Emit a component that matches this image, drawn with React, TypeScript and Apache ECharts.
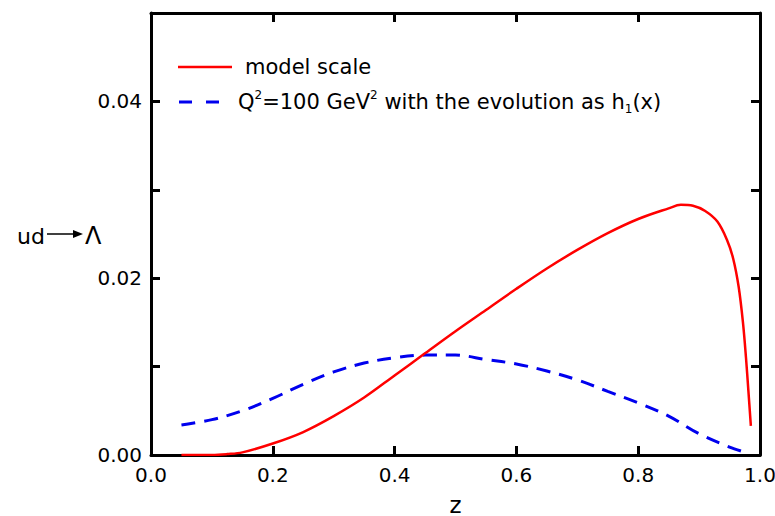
import React, { useEffect, useRef } from "react";
import * as echarts from "echarts";

const FONT = "DejaVu Sans, Liberation Sans, Arial, sans-serif";

const xTicks = [0, 0.2, 0.4, 0.6, 0.8, 1.0];
const yLabelValues = [0, 0.02, 0.04];

const modelZ = [0.05, 0.1, 0.125, 0.15, 0.2, 0.25, 0.3, 0.35, 0.4, 0.45, 0.5, 0.55, 0.6, 0.65, 0.7, 0.75, 0.8, 0.85, 0.87, 0.89, 0.91, 0.93, 0.946, 0.956, 0.965, 0.972, 0.977, 0.981, 0.985];
const modelV = [0, 0, 0.0001, 0.0003, 0.0013, 0.0026, 0.0044, 0.0065, 0.009, 0.0115, 0.014, 0.0164, 0.0188, 0.0211, 0.0232, 0.0251, 0.0267, 0.0279, 0.0283, 0.0282, 0.0276, 0.0264, 0.0243, 0.0222, 0.019, 0.015, 0.011, 0.0072, 0.0033];

const evolZ = [0.05, 0.1, 0.15, 0.2, 0.25, 0.3, 0.35, 0.4, 0.45, 0.5, 0.55, 0.6, 0.65, 0.7, 0.75, 0.8, 0.85, 0.9, 0.95, 0.98];
const evolV = [0.0034, 0.004, 0.005, 0.0064, 0.008, 0.0094, 0.0104, 0.011, 0.0113, 0.0113, 0.0108, 0.0103, 0.0095, 0.0085, 0.0072, 0.0059, 0.0044, 0.0024, 0.0009, 0.0002];

export default function App() {
  const ref = useRef<HTMLDivElement>(null);
  useEffect(() => {
    document.body.style.margin = "0";
    const chart = echarts.init(ref.current!, null, { renderer: "svg" });
    const axisLine = { show: true, onZero: false, lineStyle: { color: "#000", width: 3 } };
    const axisTick = { show: true, inside: true, length: 9, lineStyle: { color: "#000", width: 3 } };
    chart.setOption({
      animation: false,
      backgroundColor: "#fff",
      grid: { left: 151, right: 15, top: 13, bottom: 61, containLabel: false, outerBoundsMode: "none" },
      xAxis: [
        {
          type: "value",
          min: 0,
          max: 1,
          interval: 0.2,
          position: "bottom",
          axisLine,
          axisTick,
          splitLine: { show: false },
          axisLabel: {
            color: "#000",
            fontSize: 20,
            fontFamily: FONT,
            margin: 10,
            formatter: (v: number) => (xTicks.some((t) => Math.abs(t - v) < 1e-9) ? v.toFixed(1) : ""),
          },
          name: "z",
          nameLocation: "middle",
          nameGap: 40,
          nameTextStyle: { color: "#000", fontSize: 23, fontFamily: FONT, lineHeight: 19 },
        },
        {
          type: "value",
          min: 0,
          max: 1,
          interval: 0.2,
          position: "top",
          axisLine,
          axisTick,
          splitLine: { show: false },
          axisLabel: { show: false },
        },
      ],
      yAxis: [
        {
          type: "value",
          min: 0,
          max: 0.05,
          interval: 0.01,
          position: "left",
          axisLine,
          axisTick,
          splitLine: { show: false },
          axisLabel: {
            color: "#000",
            fontSize: 20,
            fontFamily: FONT,
            margin: 9,
            formatter: (v: number) => (yLabelValues.some((t) => Math.abs(t - v) < 1e-9) ? v.toFixed(2) : ""),
          },
        },
        {
          type: "value",
          min: 0,
          max: 0.05,
          interval: 0.01,
          position: "right",
          axisLine,
          axisTick,
          splitLine: { show: false },
          axisLabel: { show: false },
        },
      ],
      series: [
        {
          name: "model scale",
          type: "line",
          data: modelZ.map((z, i) => [z, modelV[i]]),
          smooth: 0.35,
          showSymbol: false,
          lineStyle: { color: "#ff0000", width: 2.5 },
          z: 3,
        },
        {
          name: "evolution",
          type: "line",
          data: evolZ.map((z, i) => [z, evolV[i]]),
          smooth: 0.35,
          showSymbol: false,
          lineStyle: { color: "#0000ee", width: 3, type: [14, 9] },
          z: 2,
        },
      ],
      graphic: [
        { type: "line", shape: { x1: 178, y1: 67, x2: 232, y2: 67 }, style: { stroke: "#ff0000", lineWidth: 2.5 } },
        {
          type: "text",
          x: 245,
          y: 67,
          style: { text: "model scale", fontSize: 21, fontFamily: FONT, fill: "#000", verticalAlign: "middle" },
        },
        { type: "line", shape: { x1: 179, y1: 102, x2: 232, y2: 102 }, style: { stroke: "#0000ee", lineWidth: 3, lineDash: [13, 14] } },
        {
          type: "text",
          x: 238,
          y: 102,
          style: {
            text: "{n|Q}{s|2}{n|=100 GeV}{s|2}{n| with the evolution as h}{b|1}{n|(x)}",
            verticalAlign: "middle",
            fill: "#000",
            rich: {
              n: { fontSize: 21, fontFamily: FONT, lineHeight: 26, fill: "#000" },
              s: { fontSize: 12, fontFamily: FONT, lineHeight: 14, verticalAlign: "top", fill: "#000" },
              b: { fontSize: 12, fontFamily: FONT, lineHeight: 12, verticalAlign: "bottom", fill: "#000" },
            },
          },
        },
        {
          type: "text",
          x: 17,
          y: 236,
          style: { text: "ud", fontSize: 22, fontFamily: FONT, fill: "#000", verticalAlign: "middle" },
        },
        { type: "line", shape: { x1: 47, y1: 234, x2: 74, y2: 234 }, style: { stroke: "#000", lineWidth: 1.5 } },
        { type: "polygon", shape: { points: [[73, 230], [83, 234], [73, 238]] }, style: { fill: "#000" } },
        {
          type: "text",
          x: 85,
          y: 236,
          style: { text: "Λ", fontSize: 24, fontFamily: FONT, fill: "#000", verticalAlign: "middle" },
        },
      ],
    });
    return () => chart.dispose();
  }, []);
  return <div ref={ref} style={{ width: 775, height: 516 }} />;
}
